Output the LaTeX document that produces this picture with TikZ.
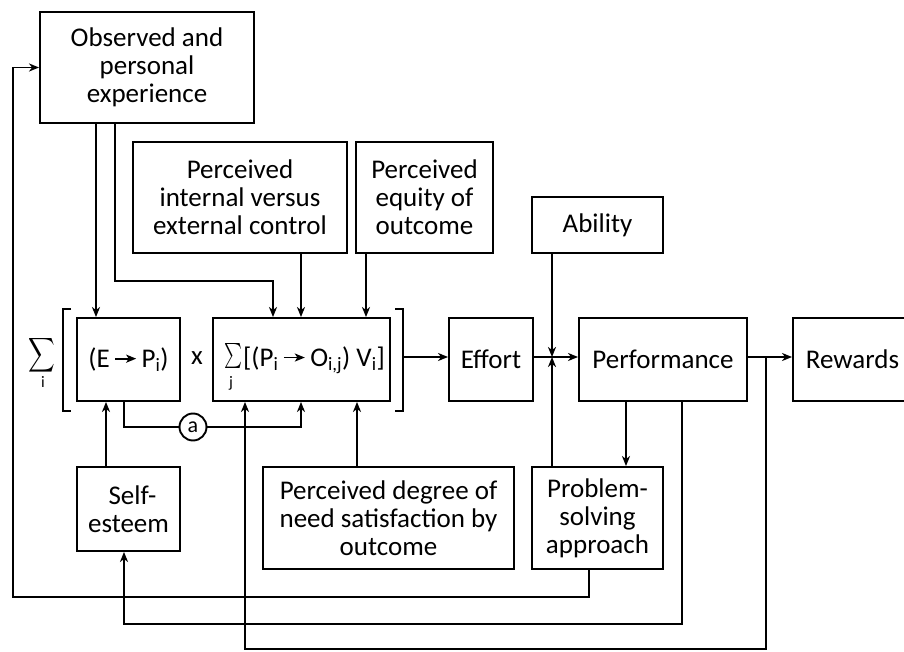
\documentclass[tikz,border=0pt]{standalone}
\usepackage{fontspec}
\setmainfont{Carlito}
\usepackage{graphicx}
\usetikzlibrary{arrows.meta,calc}
\newcommand{\imparrow}{\tikz[baseline=-8.5pt]\draw[line width=1.8pt,-{Stealth[length=10pt,width=8pt,inset=2.5pt]}] (0pt,0pt) -- (21pt,0pt);}
\begin{document}
\begin{tikzpicture}[x=1pt,y=-1pt,
  box/.style={draw,line width=1.9pt,align=center,inner sep=0pt,font=\fontsize{27}{28}\selectfont},
  lbl/.style={inner sep=0pt,font=\fontsize{27}{28}\selectfont},
  subl/.style={inner sep=0pt,font=\fontsize{16}{16}\selectfont},
  conn/.style={line width=1.9pt},
  arr/.style={conn,-{Stealth[length=10pt,width=8pt,inset=3pt]}},
]
\useasboundingbox (0,0) rectangle (904,652);

% boxes
\node[box,minimum width=214pt,minimum height=111pt] (obs) at (147,67.5) {Observed and\\personal\\experience};
\node[box,minimum width=214pt,minimum height=111pt] (ctrl) at (240,197.5) {Perceived\\internal versus\\external control};
\node[box,minimum width=137pt,minimum height=111pt] (equity) at (424.5,197.5) {Perceived\\equity of\\outcome};
\node[box,minimum width=131pt,minimum height=56pt] (ability) at (597.5,225) {Ability};
\node[box,minimum width=103pt,minimum height=83pt] (ep) at (128.5,359.5) {(E\,\imparrow\,P\textsubscript{i})};
\node[box,minimum width=177pt,minimum height=83pt] (pov) at (301.5,359.5) {};
\node[box,minimum width=84pt,minimum height=83pt] (effort) at (491,359.5) {Effort};
\node[box,minimum width=168pt,minimum height=83pt] (perf) at (663,359.5) {Performance};
\node[box,minimum width=119pt,minimum height=83pt] (rewards) at (852.5,359.5) {Rewards};
\node[box,minimum width=103pt,minimum height=84pt] (self) at (128.5,509) {\hspace*{8pt}Self-\\esteem};
\node[box,minimum width=251pt,minimum height=102pt] (degree) at (388.5,518) {Perceived degree of\\need satisfaction by\\outcome};
\node[box,minimum width=131pt,minimum height=102pt] (prob) at (597.5,518) {Problem-\\solving\\approach};
\node[draw,circle,line width=1.9pt,minimum size=27pt,inner sep=0pt,font=\fontsize{22}{22}\selectfont] (circ) at (193,427) {a};

% texts outside/inside
\node[inner sep=0pt] (bigsig) at (42,355) {\scalebox{1.85}[2.4]{$\displaystyle\sum$}};
\node[subl] (bigi) at (43,382) {i};
\node[lbl] (times) at (197,358) {x};
\node[inner sep=0pt] (povsig) at (233,356) {\scalebox{1.7}[2.5]{$\sum$}};
\node[subl] (povj) at (231,383) {j};
\node[lbl,anchor=west] (povtxt) at (243,360) {[(P\textsubscript{i}\,\imparrow\,O\textsubscript{i,j}) V\textsubscript{i}]};

% brackets
\draw[conn] (71,309) -- (63,309) -- (63,411) -- (71,411);
\draw[conn] (395,309) -- (403,309) -- (403,411) -- (395,411);

% helper coordinates
\coordinate (x96) at (96,0);
\coordinate (x115) at (115,0);
\coordinate (k1) at (273,281);
\coordinate (x301) at (301,0);
\coordinate (x366) at (366,0);
\coordinate (x357) at (357,0);
\coordinate (x106) at (106,0);
\coordinate (x626) at (626,0);
\coordinate (x682) at (682,0);
\coordinate (x589) at (589,0);
\coordinate (brR) at (403,357);
\coordinate (main) at (0,357);
\coordinate (jn) at (552,357);
\coordinate (r1) at (766,357);
\coordinate (r2) at (245,649);
\coordinate (s2) at (124,624);
\coordinate (p2) at (13,597);
\coordinate (a1) at (124,427);

% connectors
\draw[arr] (obs.south -| x96) -- (ep.north -| x96);
\draw[arr] (obs.south -| x115) |- (k1) -- (pov.north -| k1);
\draw[arr] (ctrl.south -| x301) -- (pov.north -| x301);
\draw[arr] (equity.south -| x366) -- (pov.north -| x366);
\draw[arr] (brR) -- (effort.west |- brR);
\draw[arr] (effort.east |- main) -- (perf.west |- main);
\draw[arr] (ability.south -| jn) -- (jn);
\draw[arr] (prob.north -| jn) -- (jn);
\draw[arr] (perf.east |- main) -- (rewards.west |- main);
\draw[arr] (r1) |- (r2) -- (pov.south -| r2);
\draw[arr] (perf.south -| x626) -- (prob.north -| x626);
\draw[arr] (perf.south -| x682) |- (s2) -- (self.south -| s2);
\draw[arr] (prob.south -| x589) |- (p2) |- (obs.west);
\draw[arr] (self.north -| x106) -- (ep.south -| x106);
\draw[conn] (ep.south -| a1) |- (circ.west);
\draw[arr] (circ.east) -| (pov.south -| x301);
\draw[arr] (degree.north -| x357) -- (pov.south -| x357);
\end{tikzpicture}
\end{document}
